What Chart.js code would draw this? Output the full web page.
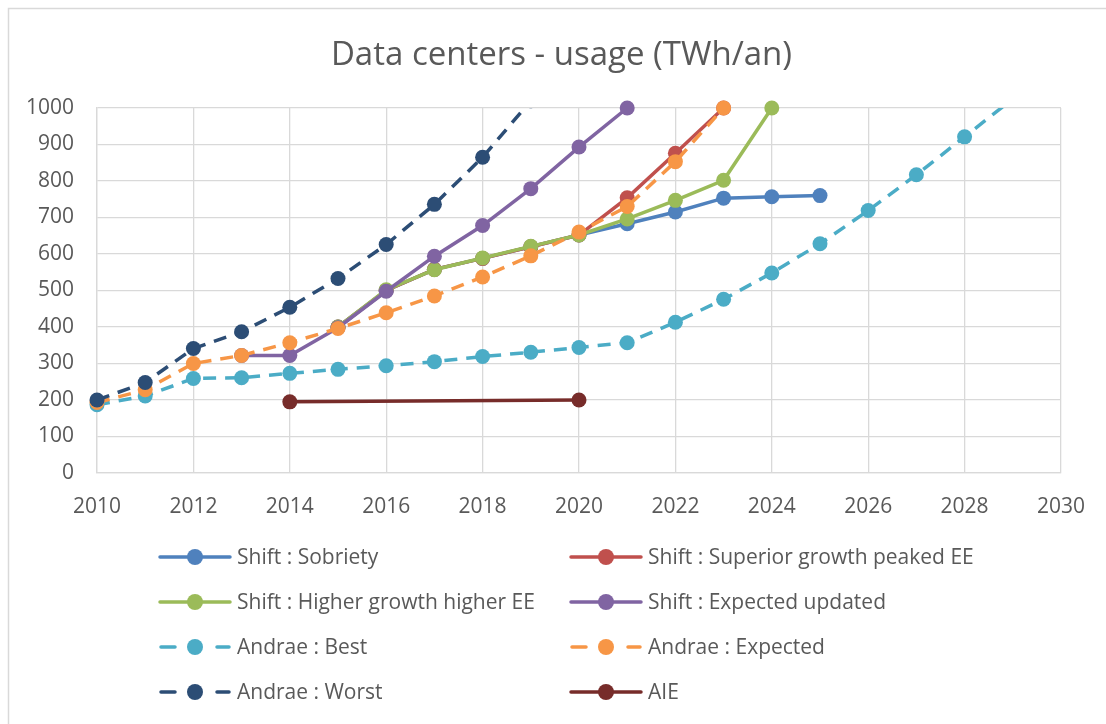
<!DOCTYPE html>
<html>
<head>
<meta charset="utf-8">
<title>Data centers - usage (TWh/an)</title>
<script src="https://cdn.jsdelivr.net/npm/chart.js@4/dist/chart.umd.min.js"></script>
<style>
  html, body { margin: 0; padding: 0; background: #ffffff; }
  #wrap { position: relative; width: 1106px; height: 724px; }
  canvas { display: block; }
</style>
</head>
<body>
<div id="wrap"><canvas id="chart" width="1106" height="724"></canvas></div>
<script>
// Years on the horizontal axis (one slot per year, null = no value)
const years = [2010, 2011, 2012, 2013, 2014, 2015, 2016, 2017, 2018, 2019,
               2020, 2021, 2022, 2023, 2024, 2025, 2026, 2027, 2028, 2029];

// Electricity use of data centers, TWh per year
const shiftSobriety = [null, null, null, null, null, 400, 500, 558, 588, 620,
                       652, 683, 715, 753, 757, 760, null, null, null, null];
const shiftSuperior = [null, null, null, null, null, 400, 500, 558, 588, 620,
                       652, 754, 876, 1000, null, null, null, null, null, null];
const shiftHigher   = [null, null, null, null, null, 400, 502, 557, 589, 621,
                       652, 696, 747, 802, 1000, null, null, null, null, null];
const shiftExpected = [null, null, null, 322, 322, 398, 498, 594, 678, 779,
                       893, 1000, null, null, null, null, null, null, null, null];
const andraeBest    = [187, 211, 259, 261, 273, 284, 294, 305, 319, 331,
                       344, 357, 413, 476, 548, 628, 719, 817, 921, 1025];
const andraeExpected = [193, 228, 300, 322, 357, 396, 439, 485, 537, 595,
                        660, 730, 853, 1000, null, null, null, null, null, null];
const andraeWorst   = [200, 248, 341, 387, 454, 533, 626, 736, 865, 1020,
                       null, null, null, null, null, null, null, null, null, null];
const aie           = [null, null, null, null, 195, null, null, null, null, null,
                       200, null, null, null, null, null, null, null, null, null];

const seriesNames = [
  'Shift : Sobriety',
  'Shift : Superior growth peaked EE',
  'Shift : Higher growth higher EE',
  'Shift : Expected updated',
  'Andrae : Best',
  'Andrae : Expected',
  'Andrae : Worst',
  'AIE'
];
const seriesValues = [shiftSobriety, shiftSuperior, shiftHigher, shiftExpected,
                      andraeBest, andraeExpected, andraeWorst, aie];
const seriesColors = ['#4F81BD', '#C0504D', '#9BBB59', '#8064A2',
                      '#4BACC6', '#F79646', '#2C4D75', '#772C2A'];
const seriesDashed = [false, false, false, false, true, true, true, false];

const chartTitle = 'Data centers - usage (TWh/an)';

const FONT = '"Open Sans", "Liberation Sans", sans-serif';
const TEXT = '#595959';
const GRID = '#d9d9d9';
const DASH = [13, 9];

function toPoints(values) {
  const pts = [];
  values.forEach((v, i) => { if (v !== null) pts.push({ x: years[i], y: v }); });
  return pts;
}

const datasets = seriesNames.map((name, i) => ({
  label: name,
  data: toPoints(seriesValues[i]),
  borderColor: seriesColors[i],
  backgroundColor: seriesColors[i],
  pointBackgroundColor: seriesColors[i],
  pointBorderColor: seriesColors[i],
  borderWidth: 3.5,
  borderDash: seriesDashed[i] ? DASH : [],
  pointRadius: 7.5,
  pointBorderWidth: 0,
  pointHoverRadius: 7.5,
  tension: 0,
  // later series are drawn above earlier ones
  order: seriesNames.length - i,
  // series that run past the top of the axis are cut at the frame
  clip: (seriesValues[i].some(v => v !== null && v > 1000))
    ? { left: 12, right: 12, top: 0, bottom: 12 }
    : { left: 12, right: 12, top: 12, bottom: 12 }
}));

// Outer frame of the chart and its title
const framePlugin = {
  id: 'frame',
  beforeDraw(chart) {
    const ctx = chart.ctx;
    ctx.save();
    ctx.fillStyle = '#ffffff';
    ctx.fillRect(0, 0, chart.width, chart.height);
    ctx.strokeStyle = GRID;
    ctx.lineWidth = 1.5;
    ctx.beginPath();
    ctx.moveTo(8.5, chart.height + 2);
    ctx.lineTo(8.5, 8.5);
    ctx.lineTo(chart.width + 2, 8.5);
    ctx.stroke();
    ctx.fillStyle = TEXT;
    ctx.font = '33px ' + FONT;
    ctx.textAlign = 'center';
    ctx.textBaseline = 'alphabetic';
    ctx.fillText(chartTitle, 561.5, 65);
    ctx.restore();
  }
};

// Two-column legend under the plot: line sample with a marker, then the name
const legendPlugin = {
  id: 'twoColumnLegend',
  afterDraw(chart) {
    const ctx = chart.ctx;
    const colX = [160, 571];
    const rowY = [557, 602, 647, 692];
    const sample = 70;
    ctx.save();
    chart.data.datasets.forEach((ds, i) => {
      const x = colX[i % 2];
      const y = rowY[Math.floor(i / 2)];
      ctx.strokeStyle = ds.borderColor;
      ctx.lineWidth = 3.5;
      ctx.lineCap = 'round';
      ctx.beginPath();
      if (ds.borderDash && ds.borderDash.length) {
        ctx.moveTo(x + 1, y); ctx.lineTo(x + 15, y);
        ctx.moveTo(x + sample - 13, y); ctx.lineTo(x + sample - 1, y);
      } else {
        ctx.moveTo(x, y); ctx.lineTo(x + sample, y);
      }
      ctx.stroke();
      ctx.fillStyle = ds.pointBackgroundColor;
      ctx.beginPath();
      ctx.arc(x + sample / 2, y, 8, 0, Math.PI * 2);
      ctx.fill();
      ctx.fillStyle = TEXT;
      ctx.font = '21px ' + FONT;
      ctx.textBaseline = 'middle';
      ctx.textAlign = 'left';
      ctx.fillText(ds.label, x + sample + 7, y + 1);
    });
    ctx.restore();
  }
};

new Chart(document.getElementById('chart'), {
  type: 'line',
  data: { datasets },
  options: {
    responsive: false,
    animation: false,
    events: [],
    layout: { padding: { left: 8, right: 45, top: 108, bottom: 191 } },
    plugins: {
      legend: { display: false },
      tooltip: { enabled: false },
      title: { display: false }
    },
    scales: {
      x: {
        type: 'linear',
        min: 2010,
        max: 2030,
        afterFit(scale) { scale.height = 60; },
        ticks: {
          stepSize: 2,
          padding: 21,
          color: TEXT,
          font: { family: FONT, size: 21 },
          callback: v => String(v)
        },
        grid: { color: GRID, lineWidth: 1.3, drawTicks: false },
        border: { color: GRID, width: 1.3 }
      },
      y: {
        min: 0,
        max: 1000,
        afterFit(scale) { scale.width = 89; },
        ticks: {
          stepSize: 100,
          padding: 23,
          color: TEXT,
          font: { family: FONT, size: 21 },
          callback: v => String(v)
        },
        grid: { color: GRID, lineWidth: 1.3, drawTicks: false },
        border: { color: GRID, width: 1.3 }
      }
    }
  },
  plugins: [framePlugin, legendPlugin]
});
</script>
</body>
</html>
